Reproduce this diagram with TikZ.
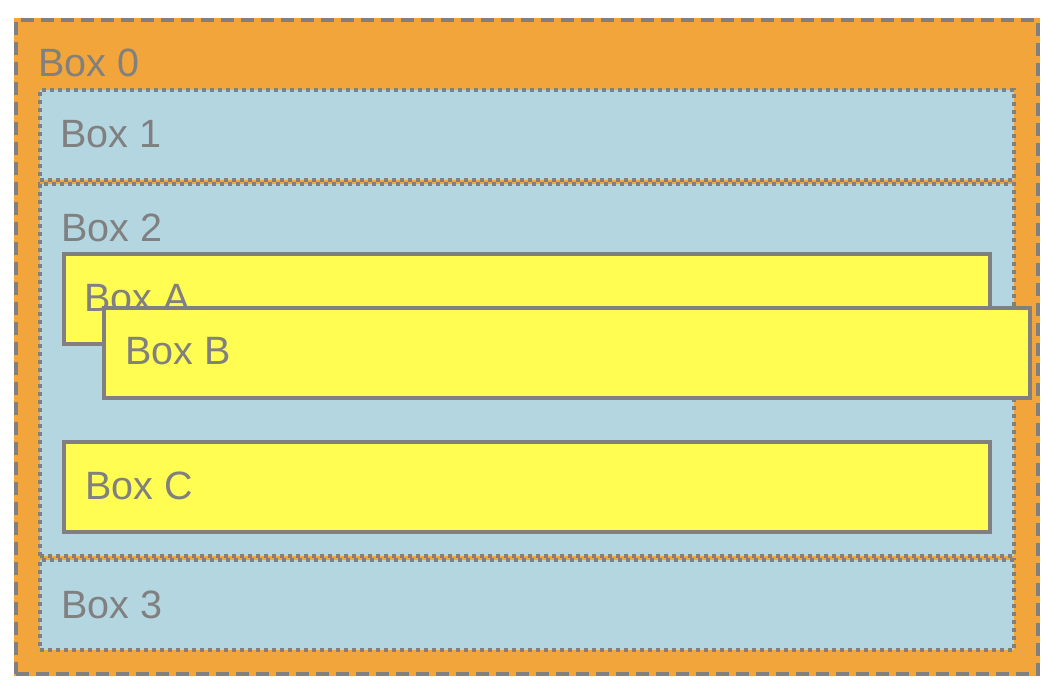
\documentclass[tikz,border=0pt]{standalone}
\usepackage{fontspec}
\setmainfont{Liberation Sans}
\definecolor{boxorange}{HTML}{F2A53A}
\definecolor{boxblue}{HTML}{B4D6E1}
\definecolor{boxyellow}{HTML}{FFFC52}
\definecolor{boxgray}{HTML}{808080}
\begin{document}
\begin{tikzpicture}[x=1pt,y=-1pt,
  lbl/.style={anchor=base west, inner sep=0pt, outer sep=0pt, text=boxgray, font=\fontsize{39.5}{42}\selectfont},
  frame/.style={anchor=north west, inner sep=0pt, outer sep=0pt, line width=4pt, draw=boxgray, line cap=butt},
  outerbox/.style={frame, fill=boxorange, dash pattern=on 12.7pt off 7.3pt},
  bluebox/.style={frame, fill=boxblue, dash pattern=on 4pt off 4pt, minimum width=974pt},
  yellowbox/.style={frame, fill=boxyellow, minimum width=926pt, minimum height=90pt}]
\useasboundingbox (0,0) rectangle (1056,694);
% Box 0
\fill[boxorange] (14,18) rectangle (1040,676);
\node[outerbox, minimum width=1022pt, minimum height=654pt] (b0) at (16,20) {};
\node[lbl] (t0) at (38,76) {Box 0};
% Box 1, 2, 3
\node[bluebox, minimum height=90pt] (b1) at (40,90) {};
\node[lbl] (t1) at (60,147) {Box 1};
\node[bluebox, minimum height=372pt] (b2) at (40,184) {};
\node[lbl] (t2) at (61,241) {Box 2};
\node[bluebox, minimum height=90pt] (b3) at (40,560) {};
\node[lbl] (t3) at (61,618) {Box 3};
% Box A, B, C
\node[yellowbox] (ba) at (64,254) {};
\node[lbl] (ta) at (84,311) {Box A};
\node[yellowbox] (bb) at (104,308) {};
\node[lbl] (tb) at (125,364) {Box B};
\node[yellowbox] (bc) at (64,442) {};
\node[lbl] (tc) at (85,499) {Box C};
\end{tikzpicture}
\end{document}
